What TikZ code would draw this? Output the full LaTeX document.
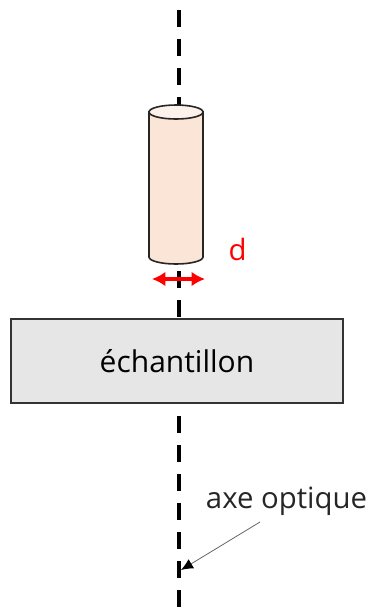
\documentclass[tikz,border=0pt]{standalone}
\usepackage{fontspec}
\setmainfont{Open Sans}
\usetikzlibrary{arrows.meta}
\definecolor{tubefill}{HTML}{FBE5D6}
\definecolor{tubetop}{HTML}{FDF2EB}
\definecolor{samplefill}{HTML}{E7E6E6}
\tikzset{
    axis/.style={line width=3.4pt, dash pattern=on 12.75pt off 9pt},
    tube/.style={draw=black!85, line width=1.2pt},
    sample/.style={draw=black!80, fill=samplefill, line width=1.1pt, minimum width=249pt, minimum height=63pt, inner sep=0pt},
    caption/.style={inner sep=0pt, text=black!85}
}
\begin{document}
\begin{tikzpicture}[x=0.75pt, y=-0.75pt]
    \useasboundingbox (0,0) rectangle (369,608);
    \coordinate (t1) at (179,10);
    \coordinate (t2) at (179,608);
    \coordinate (d1) at (152,279);
    \coordinate (d2) at (205,279);
    \coordinate (a1) at (260,522);
    \coordinate (a2) at (181,570);
    \draw[axis] (t1) -- (t2);
    % tube
    \draw[tube, fill=tubefill] (149,112) -- (149,257) arc[start angle=180, end angle=0, x radius=27, y radius=7] -- (203,112) -- cycle;
    \draw[tube, fill=tubetop] (176,112) ellipse[x radius=27, y radius=7];
    \draw[red, line width=2.6pt, {Latex[length=10pt,width=11pt]}-{Latex[length=10pt,width=11pt]}] (d1) -- (d2);
    \node[caption, text=red, font=\fontsize{22}{26}\selectfont] (dlabel) at (237.5,249) {d};
    \node[sample, font=\fontsize{22.5}{26}\selectfont] (sample1) at (177,361) {échantillon};
    \node[caption, font=\fontsize{22}{26}\selectfont] (axelabel) at (286.5,501) {axe optique};
    \draw[black!60, line width=0.6pt, -{Latex[black,length=9pt,width=8pt]}] (a1) -- (a2);
\end{tikzpicture}
\end{document}
